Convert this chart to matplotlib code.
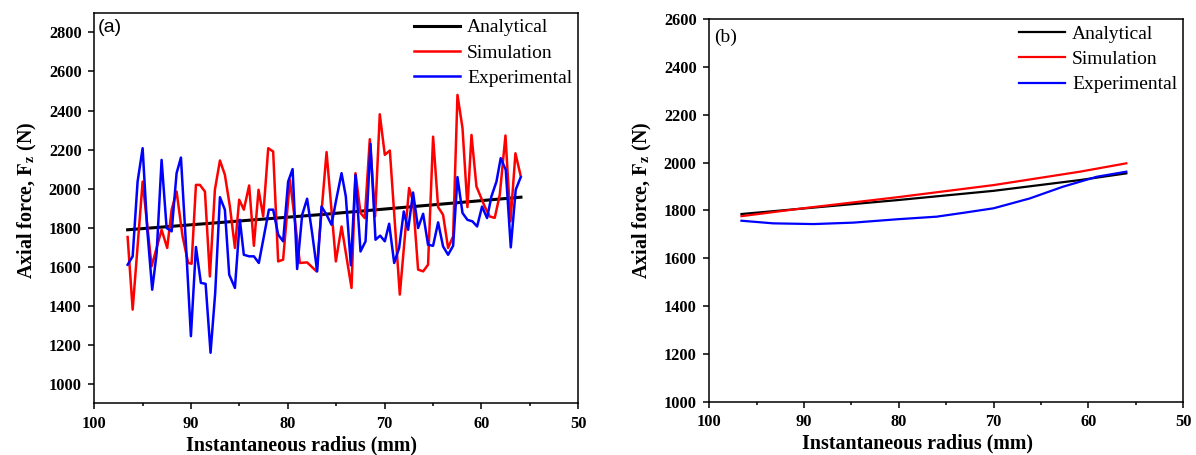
import matplotlib
matplotlib.use("Agg")
import matplotlib.pyplot as plt
from matplotlib.ticker import MultipleLocator

# ---- panel (a): raw signals ----
r_sim_a = [96.55, 96.03, 95.0, 94.07, 93.04, 92.46, 92.0, 91.49, 90.87, 90.29,
           89.94, 89.49, 89.08, 88.56, 88.05, 87.53, 87.01, 86.5, 85.98, 85.46,
           85.02, 84.54, 83.99, 83.5, 83.02, 82.54, 82.02, 81.51, 80.99, 80.48,
           79.78, 79.27, 78.75, 78.0, 77.03, 75.99, 75.03, 74.44, 73.41, 73.0,
           72.48, 72.04, 71.52, 70.97, 70.49, 69.97, 69.45, 68.42, 67.46, 67.05,
           66.53, 66.01, 65.5, 64.98, 64.46, 63.95, 63.43, 62.91, 62.46, 61.94,
           61.43, 61.01, 60.5, 59.64, 59.12, 58.61, 58.09, 57.5, 56.98, 56.47, 55.95]
f_sim_a = [1752, 1380, 2036, 1602, 1789, 1696, 1892, 1985, 1755, 1619,
           1615, 2019, 2019, 1985, 1550, 1994, 2144, 2071, 1908, 1696,
           1943, 1892, 2016, 1707, 1994, 1858, 2207, 2190, 1627, 1636,
           2045, 1840, 1619, 1622, 1576, 2187, 1627, 1806, 1491, 2079,
           1875, 1849, 2253, 1858, 2381, 2173, 2195, 1457, 2003, 1934,
           1585, 1576, 1610, 2266, 1905, 1866, 1696, 1755, 2480, 2310,
           1905, 2275, 2011, 1908, 1857, 1850, 1968, 2272, 1832, 2181, 2070]

r_exp_a = [96.55, 96.03, 95.52, 95.0, 94.52, 94.01, 93.55, 93.04, 92.52, 92.0,
           91.49, 91.04, 90.53, 90.01, 89.49, 88.98, 88.49, 87.98, 87.5, 87.01,
           86.5, 86.05, 85.46, 84.95, 84.54, 83.99, 83.5, 82.99, 82.47, 81.95,
           81.51, 80.99, 80.48, 79.96, 79.5, 79.03, 78.51, 78.0, 77.48, 76.96,
           76.51, 75.99, 75.48, 74.96, 74.44, 74.0, 73.48, 73.0, 72.48, 71.96,
           71.45, 70.93, 70.45, 69.97, 69.52, 69.0, 68.49, 68.01, 67.56, 67.05,
           66.53, 66.01, 65.5, 64.98, 64.46, 63.95, 63.43, 62.91, 62.46, 61.94,
           61.43, 60.91, 60.43, 59.92, 59.4, 58.95, 58.43, 57.99, 57.47, 56.95,
           56.44, 55.92]
f_exp_a = [1610, 1653, 2036, 2207, 1789, 1482, 1670, 2147, 1798, 1781,
           2079, 2159, 1721, 1244, 1701, 1517, 1512, 1159, 1465, 1956,
           1892, 1559, 1491, 1840, 1661, 1653, 1653, 1619, 1755, 1892,
           1892, 1764, 1730, 2036, 2100, 1588, 1866, 1948, 1772, 1576,
           1908, 1866, 1815, 1951, 2079, 1960, 1607, 2070, 1678, 1730,
           2229, 1738, 1759, 1730, 1820, 1619, 1696, 1883, 1789, 1980,
           1798, 1871, 1712, 1707, 1827, 1704, 1661, 1707, 2059, 1875,
           1840, 1832, 1806, 1908, 1849, 1960, 2036, 2156, 2096, 1699,
           1994, 2059]

r_ana_a = [96.55, 76.3, 55.9]
f_ana_a = [1789, 1868, 1956]

# ---- panel (b): smoothed ----
r_ana_b = [96.6, 90.1, 80.2, 70.0, 60.9, 56.0]
f_ana_b = [1785, 1808, 1843, 1882, 1927, 1955]
r_sim_b = [96.6, 90.1, 80.2, 70.0, 60.9, 56.0]
f_sim_b = [1776, 1809, 1855, 1906, 1962, 1997]
r_exp_b = [96.6, 93.25, 89.0, 84.8, 80.2, 76.0, 73.2, 70.0, 66.2, 62.7, 59.1, 56.0]
f_exp_b = [1757, 1746, 1743, 1749, 1763, 1774, 1790, 1809, 1850, 1899, 1941, 1962]

serif = "Liberation Serif"
plt.rcParams["font.family"] = serif
plt.rcParams["mathtext.fontset"] = "stix"

fig = plt.figure(figsize=(11.96, 4.55), dpi=100)
ax1 = fig.add_axes([0.0788, 0.1136, 0.4045, 0.858])
ax2 = fig.add_axes([0.593, 0.117, 0.3963, 0.841])


def style(ax, ylim, yticks, xlab_x, ylab_y):
    ax.set_xlim(100, 50)
    ax.set_ylim(*ylim)
    ax.xaxis.set_major_locator(MultipleLocator(10))
    ax.xaxis.set_minor_locator(MultipleLocator(5))
    ax.set_yticks(yticks)
    ax.tick_params(which="both", direction="out", width=1.1, labelsize=11.8, pad=5)
    ax.tick_params(which="major", length=4)
    ax.tick_params(which="minor", length=2.5)
    for lab in ax.get_xticklabels() + ax.get_yticklabels():
        lab.set_fontweight("bold")
    for sp in ax.spines.values():
        sp.set_linewidth(1.1)
    ax.set_xlabel("Instantaneous radius (mm)", fontsize=14.4, fontweight="bold",
                  labelpad=2.5, x=xlab_x)
    ax.set_ylabel(r"Axial force, $\mathbf{F}_{\mathbf{z}}$ (N)", fontsize=14.4,
                  fontweight="bold", labelpad=7, y=ylab_y)
    ax.legend(loc="upper right", frameon=False, fontsize=14, handlelength=2.4,
              handletextpad=0.35, labelspacing=0.4, borderaxespad=-0.1)


ax1.plot(r_ana_a, f_ana_a, color="black", lw=2.2, label="Analytical")
ax1.plot(r_sim_a, f_sim_a, color="red", lw=1.8, label="Simulation")
ax1.plot(r_exp_a, f_exp_a, color="blue", lw=1.8, label="Experimental")
style(ax1, (900, 2900), range(1000, 2801, 200), 0.429, 0.52)
ax1.text(0.008, 0.985, "(a)", transform=ax1.transAxes, ha="left", va="top",
         fontsize=14, family="Liberation Sans")

ax2.plot(r_ana_b, f_ana_b, color="black", lw=1.6, label="Analytical")
ax2.plot(r_sim_b, f_sim_b, color="red", lw=1.6, label="Simulation")
ax2.plot(r_exp_b, f_exp_b, color="blue", lw=1.6, label="Experimental")
style(ax2, (1000, 2600), range(1000, 2601, 200), 0.439, 0.527)
ax2.text(0.01, 0.975, "(b)", transform=ax2.transAxes, ha="left", va="top", fontsize=14)

fig.savefig("out.png", dpi=100)
